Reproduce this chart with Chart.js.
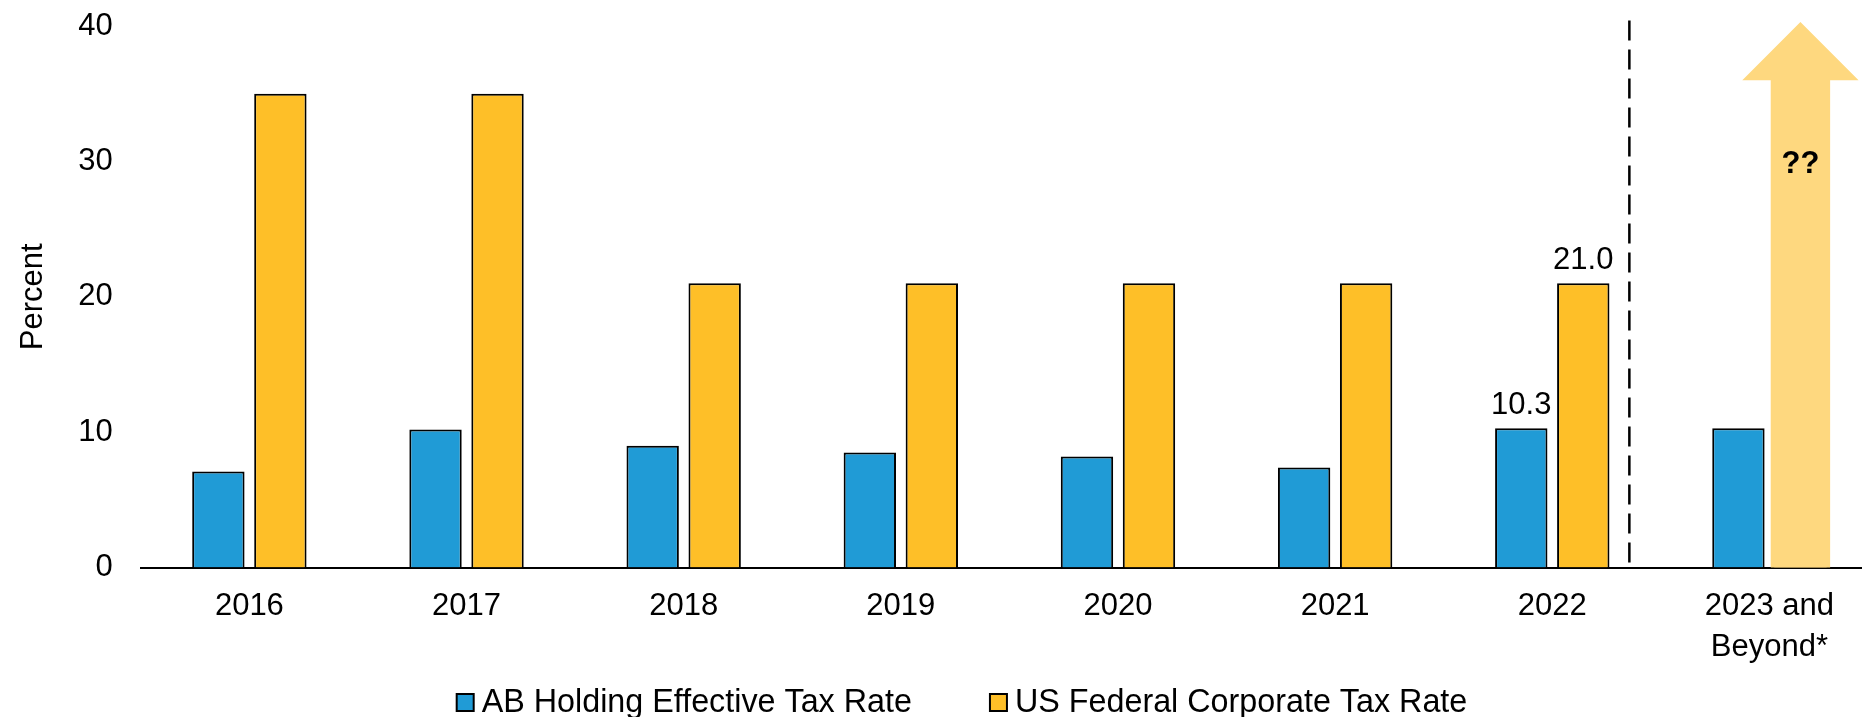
<!DOCTYPE html>
<html lang="en">
<head>
<meta charset="UTF-8">
<meta name="viewport" content="width=device-width, initial-scale=1.0">
<title>AB Holding Tax Rate</title>
<style>
    html, body { margin: 0; padding: 0; overflow: hidden; background: #fff; }
    canvas { position: absolute; left: 0; top: 0; }
</style>
</head>
<body>
<canvas id="taxChart" width="1878" height="717"></canvas>

<script src="https://cdn.jsdelivr.net/npm/chart.js"></script>
<script>
    // values
    const years = ['2016', '2017', '2018', '2019', '2020', '2021', '2022', ['2023 and', 'Beyond*']];
    const abHoldingRate = [7.1, 10.2, 9.0, 8.5, 8.2, 7.4, 10.3, 10.3];
    const usFederalRate = [35.0, 35.0, 21.0, 21.0, 21.0, 21.0, 21.0, 36.0]; // last one = arrow shaft
    const yTicks = [0, 10, 20, 30, 40];
    const arrowTip = 40.3;       // tip of the "??" arrow
    const arrowText = '??';
    const arrowTextAt = 29.8;
    const labelledIndex = 6;     // 2022 bars carry value labels
    const dividerAt = 6.355;     // dashed line, in category units
    const dividerTop = 40.4;

    const blue = '#209BD6';
    const gold = '#FEBF28';
    const lightGold = '#FED87F';
    const fontFamily = "'Liberation Sans', Arial, sans-serif";

    // arrow, labels, dashed divider and the legend row
    const extras = {
        id: 'extras',
        afterDatasetsDraw(chart) {
            const ctx = chart.ctx;
            const x = chart.scales.x;
            const y = chart.scales.y;
            const zero = y.getPixelForValue(0);

            // arrow over the last gold bar
            const shaft = chart.getDatasetMeta(1).data[years.length - 1];
            const cx = shaft.x;
            const w = shaft.width;
            const sh = w * 0.567;
            const hh = w * 1.11;
            const yb = y.getPixelForValue(usFederalRate[years.length - 1]);
            const yt = y.getPixelForValue(arrowTip);
            ctx.save();
            ctx.fillStyle = lightGold;
            ctx.beginPath();
            ctx.moveTo(cx - sh, zero);
            ctx.lineTo(cx - sh, yb);
            ctx.lineTo(cx - hh, yb);
            ctx.lineTo(cx, yt);
            ctx.lineTo(cx + hh, yb);
            ctx.lineTo(cx + sh, yb);
            ctx.lineTo(cx + sh, zero);
            ctx.closePath();
            ctx.fill();

            ctx.fillStyle = '#000';
            ctx.textAlign = 'center';
            ctx.textBaseline = 'middle';
            ctx.font = 'bold 31px ' + fontFamily;
            ctx.fillText(arrowText, cx, y.getPixelForValue(arrowTextAt));

            // value labels on 2022
            ctx.font = '31px ' + fontFamily;
            [abHoldingRate, usFederalRate].forEach((vals, i) => {
                const bar = chart.getDatasetMeta(i).data[labelledIndex];
                ctx.fillText(vals[labelledIndex].toFixed(1), bar.x, bar.y - 23);
            });

            // dashed divider
            const dx = x.getPixelForValue(dividerAt);
            ctx.strokeStyle = '#000';
            ctx.lineWidth = 2.5;
            ctx.setLineDash([20, 9]);
            ctx.beginPath();
            ctx.moveTo(dx, y.getPixelForValue(dividerTop));
            ctx.lineTo(dx, zero);
            ctx.stroke();
            ctx.restore();
        },
        afterDraw(chart) {
            const ctx = chart.ctx;
            const items = chart.data.datasets.map(ds => ({ text: ds.label, color: ds.legendColor }));
            const box = 17, boxGap = 8, itemGap = 78;
            const centerX = 962, baseY = 712;
            ctx.save();
            ctx.font = '32.3px ' + fontFamily;
            let total = itemGap;
            items.forEach(it => { it.w = ctx.measureText(it.text).width; total += box + boxGap + it.w; });
            let px = centerX - total / 2;
            ctx.textAlign = 'left';
            ctx.textBaseline = 'alphabetic';
            items.forEach(it => {
                ctx.fillStyle = it.color;
                ctx.fillRect(px, baseY - 18, box, box);
                ctx.strokeStyle = '#000';
                ctx.lineWidth = 2;
                ctx.strokeRect(px, baseY - 18, box, box);
                ctx.fillStyle = '#000';
                ctx.fillText(it.text, px + box + boxGap, baseY);
                px += box + boxGap + it.w + itemGap;
            });
            ctx.restore();
        }
    };

    const goldFill = usFederalRate.map((v, i) => i === years.length - 1 ? lightGold : gold);
    const goldBorder = usFederalRate.map((v, i) => i === years.length - 1 ? 0 : 2);

    new Chart(document.getElementById('taxChart'), {
        type: 'bar',
        data: {
            labels: years,
            datasets: [{
                label: 'AB Holding Effective Tax Rate',
                data: abHoldingRate,
                backgroundColor: blue,
                legendColor: blue,
                borderColor: '#000',
                borderWidth: 2
            }, {
                label: 'US Federal Corporate Tax Rate',
                data: usFederalRate,
                backgroundColor: goldFill,
                legendColor: gold,
                borderColor: '#000',
                borderWidth: goldBorder
            }]
        },
        options: {
            responsive: false,
            animation: false,
            devicePixelRatio: 1,
            categoryPercentage: 0.571,
            barPercentage: 0.845,
            layout: { padding: { top: 26, left: 0, right: 0, bottom: 0 } },
            plugins: {
                legend: { display: false },
                tooltip: { enabled: false }
            },
            scales: {
                x: {
                    grid: { display: true, drawOnChartArea: false, drawTicks: false },
                    border: { color: '#000', width: 2 },
                    ticks: {
                        color: '#000',
                        padding: 19,
                        maxRotation: 0,
                        autoSkip: false,
                        font: { family: fontFamily, size: 31, lineHeight: 1.3 }
                    },
                    afterFit(scale) { scale.height = 149.4; }
                },
                y: {
                    min: 0,
                    max: 40,
                    grid: { display: false, drawTicks: false },
                    border: { display: false },
                    afterBuildTicks(scale) { scale.ticks = yTicks.map(v => ({ value: v })); },
                    ticks: {
                        color: '#000',
                        padding: 28,
                        font: { family: fontFamily, size: 31 }
                    },
                    title: {
                        display: true,
                        text: 'Percent',
                        color: '#000',
                        padding: { top: 15, bottom: 0 },
                        font: { family: fontFamily, size: 31 }
                    },
                    afterFit(scale) {
                        scale.width = 140.8;
                        // keep the top label from pushing the plot down
                        scale.paddingTop = 0;
                        scale.paddingBottom = 0;
                    }
                }
            }
        },
        plugins: [extras]
    });
</script>
</body>
</html>
